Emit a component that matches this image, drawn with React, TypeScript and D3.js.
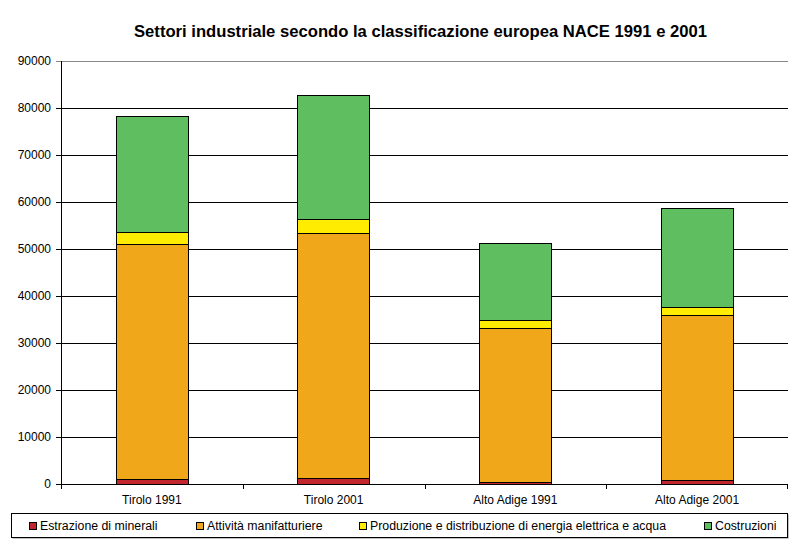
import React from "react";
import * as d3 from "d3";

const categories = ["Tirolo 1991", "Tirolo 2001", "Alto Adige 1991", "Alto Adige 2001"];
const seriesNames = [
  "Estrazione di minerali",
  "Attività manifatturiere",
  "Produzione e distribuzione di energia elettrica e acqua",
  "Costruzioni",
];
const estrazione = [1000, 1200, 450, 750];
const manifatturiere = [50100, 52100, 32700, 35300];
const energia = [2600, 3150, 1750, 1700];
const costruzioni = [24700, 26350, 16300, 21050];
const seriesColors = ["#C0262C", "#F0A81A", "#FFEC00", "#5FBE5F"];
const yTicks = [0, 10000, 20000, 30000, 40000, 50000, 60000, 70000, 80000, 90000];
const title = "Settori industriale secondo la classificazione europea NACE 1991 e 2001";

const W = 800;
const H = 554;
const plot = { left: 61, right: 788, top: 61, bottom: 484 };
const legendX = [29, 196, 359, 704];

export default function App() {
  const seriesValues = [estrazione, manifatturiere, energia, costruzioni];
  const rows = categories.map((c, i) => {
    const r: any = { cat: c };
    seriesNames.forEach((s, j) => (r[s] = seriesValues[j][i]));
    return r;
  });
  const stacked = d3.stack<any>().keys(seriesNames)(rows);
  const x = d3.scaleBand().domain(categories).range([plot.left, plot.right]).paddingInner(0.6).paddingOuter(0.3);
  const xb = d3.scaleBand().domain(categories).range([plot.left, plot.right]);
  const y = d3.scaleLinear().domain([0, 90000]).range([plot.bottom, plot.top]);
  const font = "Liberation Sans, Arial, sans-serif";

  return (
    <svg width={W} height={H} style={{ position: "absolute", left: 0, top: 0 }} fontFamily={font}>
      <rect x={0} y={0} width={W} height={H} fill="#fff" />
      <text x={420.5} y={37} textAnchor="middle" fontSize={16.5} fontWeight="bold" fill="#000" textLength={573} lengthAdjust="spacingAndGlyphs">
        {title}
      </text>
      {yTicks.map((t) => (
        <g key={t}>
          <line x1={plot.left - 5} x2={plot.right} y1={Math.round(y(t)) + 0.5} y2={Math.round(y(t)) + 0.5} stroke={t === 90000 ? "#888" : "#000"} strokeWidth={1} />
          <text x={51} y={y(t) + 4} textAnchor="end" fontSize={12} fill="#000">
            {t}
          </text>
        </g>
      ))}
      <line x1={plot.left + 0.5} x2={plot.left + 0.5} y1={plot.top} y2={plot.bottom} stroke="#000" />
      {stacked.map((s, j) => (
        <g key={s.key}>
          {s.map((d, i) => (
            <rect
              key={i}
              x={Math.round(x(categories[i])!) + 0.5}
              y={Math.round(y(d[1])) + 0.5}
              width={Math.round(x.bandwidth()) - 1}
              height={Math.max(0, Math.round(y(d[0])) - Math.round(y(d[1])))}
              fill={seriesColors[j]}
              stroke="#000"
              strokeWidth={1}
            />
          ))}
        </g>
      ))}
      <line x1={plot.left} x2={plot.right} y1={plot.bottom + 0.5} y2={plot.bottom + 0.5} stroke="#000" />
      {categories.map((c, i) => (
        <line key={"t" + i} x1={Math.round(xb(c)!) + 0.5} x2={Math.round(xb(c)!) + 0.5} y1={plot.bottom} y2={plot.bottom + 5} stroke="#000" />
      ))}
      <line x1={plot.right - 0.5} x2={plot.right - 0.5} y1={plot.bottom} y2={plot.bottom + 5} stroke="#000" />
      {categories.map((c) => (
        <text key={c} x={xb(c)! + xb.bandwidth() / 2} y={504} textAnchor="middle" fontSize={12} fill="#000">
          {c}
        </text>
      ))}
      <rect x={12.5} y={514.5} width={776} height={24} fill="#888" />
      <rect x={11.5} y={513.5} width={776} height={24} fill="#fff" stroke="#000" />
      {seriesNames.map((s, j) => (
        <g key={s}>
          <rect x={legendX[j] + 0.5} y={522.5} width={7} height={7} fill={seriesColors[j]} stroke="#000" />
          <text x={legendX[j] + 11} y={530} fontSize={12.3} fill="#000">
            {s}
          </text>
        </g>
      ))}
    </svg>
  );
}
